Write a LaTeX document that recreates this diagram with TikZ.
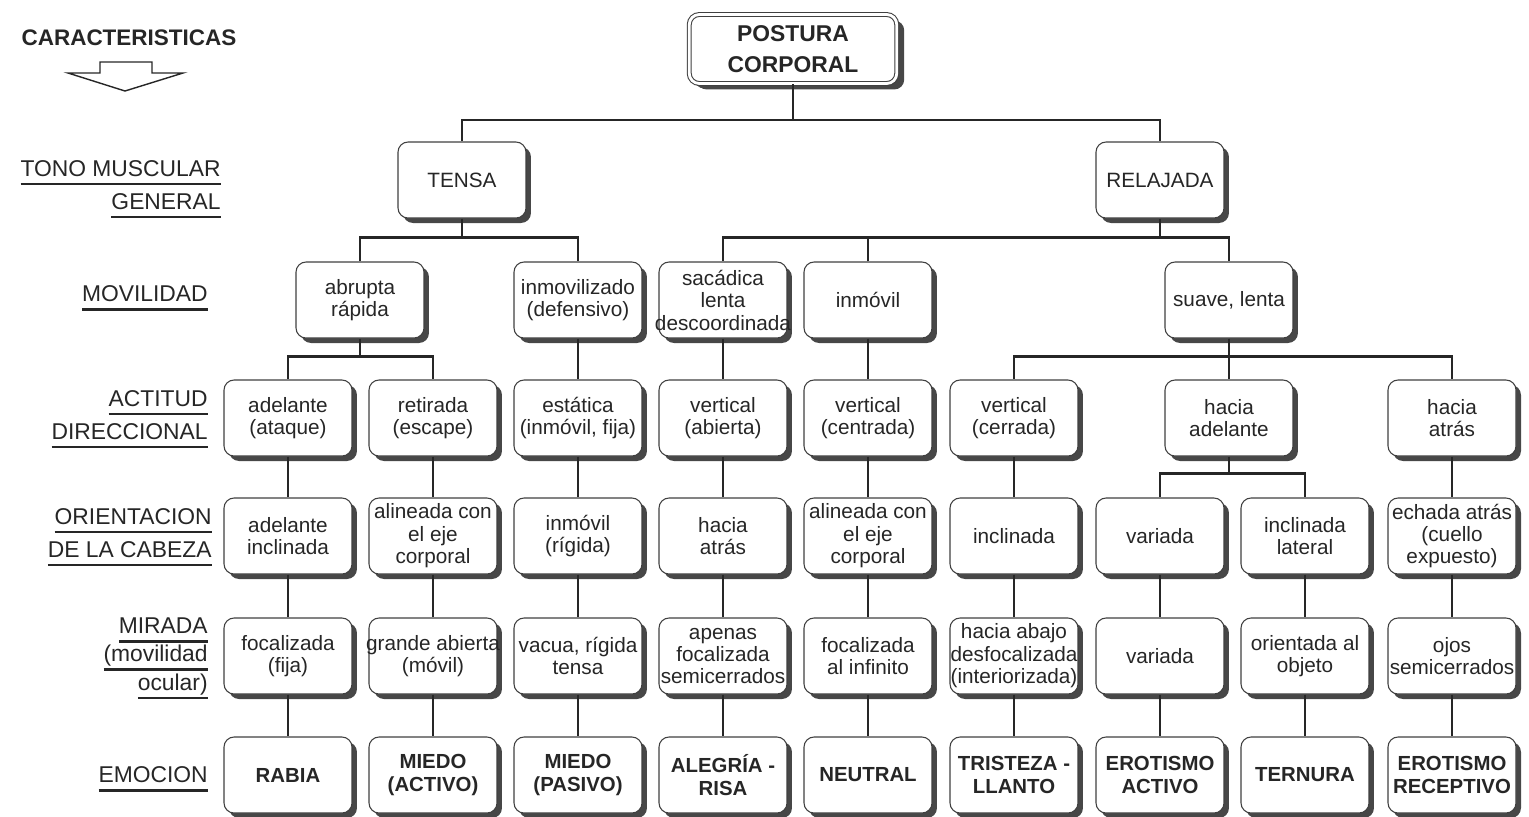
\documentclass[tikz,border=0pt]{standalone}
\usepackage{fontspec}
\setmainfont{Liberation Sans}
\usepackage{tikz}
\usetikzlibrary{shadows}

\newcommand\boxfont{\fontsize{11.8}{12.8}\selectfont}
\newcommand\emofont{\fontsize{11.6}{12.6}\selectfont\bfseries}
\newcommand\rowfont{\fontsize{13}{18.5}\selectfont}
\newcommand\ulabel[1]{\leavevmode\vtop{\hbox{\vphantom{(}#1}\kern1pt\hrule height 1.3pt}}
\newcommand\wide[1]{\makebox[2.4cm]{#1}}

\begin{document}
\begin{tikzpicture}[x=0.02cm, y=-0.02cm, text=black!85,
  box/.style={draw=black!75, line width=0.6pt, rounded corners=0.2cm, fill=white, align=center, font=\boxfont,
    minimum width=2.56cm, minimum height=1.52cm, inner sep=0.5pt,
    drop shadow={shadow xshift=0.1cm, shadow yshift=-0.1cm, fill=black!72, opacity=1}},
  emo/.style={box, font=\emofont},
  rowlabel/.style={anchor=east, align=right, font=\rowfont, inner sep=0pt},
  link/.style={line width=1.6pt, black!85}]
\useasboundingbox (0,0) rectangle (1529,816);

\node[font=\fontsize{12.8}{14}\selectfont\bfseries] (car) at (129,38) {CARACTERISTICAS};
\draw[line width=0.8pt, black!85] (100,62) -- (152,62) -- (152,73) -- (183,73) -- (125,91) -- (68,73) -- (100,73) -- cycle;

\node[rowlabel] (l1) at (221,189) {\ulabel{TONO MUSCULAR}\\\ulabel{GENERAL}};
\node[rowlabel] (l2) at (208,298) {\ulabel{MOVILIDAD}};
\node[rowlabel] (l3) at (208,419) {\ulabel{ACTITUD}\\\ulabel{DIRECCIONAL}};
\node[rowlabel] (l4) at (212,537) {\ulabel{ORIENTACION}\\\ulabel{DE LA CABEZA}};
\node[rowlabel, font=\fontsize{13}{16}\selectfont] (l5) at (208,658) {\ulabel{MIRADA}\\\ulabel{(movilidad}\\\ulabel{ocular)}};
\node[rowlabel] (l6) at (208,779) {\ulabel{EMOCION}};

\node[box, double=white, double distance=1.6pt, minimum width=4.15cm, minimum height=1.38cm,
  font=\fontsize{13}{17.5}\selectfont\bfseries,
  drop shadow={shadow xshift=0.15cm, shadow yshift=-0.12cm, fill=black!72, opacity=1}] (p) at (793,49) {POSTURA\\CORPORAL};

\node[box] (t) at (462,180) {TENSA};
\node[box] (r) at (1160,180) {RELAJADA};

\node[box] (m1) at (360,300) {abrupta\\rápida};
\node[box] (m2) at (578,300) {inmovilizado\\(defensivo)};
\node[box] (m3) at (723,300) {sacádica\\lenta\\\wide{descoordinada}};
\node[box] (m4) at (868,300) {inmóvil};
\node[box] (m5) at (1229,300) {suave, lenta};

\node[box] (a1) at (288,418) {adelante\\(ataque)};
\node[box] (a2) at (433,418) {retirada\\(escape)};
\node[box] (a3) at (578,418) {estática\\\wide{(inmóvil, fija)}};
\node[box] (a4) at (723,418) {vertical\\(abierta)};
\node[box] (a5) at (868,418) {vertical\\(centrada)};
\node[box] (a6) at (1014,418) {vertical\\(cerrada)};
\node[box] (a7) at (1229,418) {hacia\\adelante};
\node[box] (a8) at (1452,418) {hacia\\atrás};

\node[box] (o1) at (288,536) {adelante\\inclinada};
\node[box] (o2) at (433,536) {alineada con\\el eje\\corporal};
\node[box] (o3) at (578,536) {inmóvil\\(rígida)};
\node[box] (o4) at (723,536) {hacia\\atrás};
\node[box] (o5) at (868,536) {alineada con\\el eje\\corporal};
\node[box] (o6) at (1014,536) {inclinada};
\node[box] (o7) at (1160,536) {variada};
\node[box] (o8) at (1305,536) {inclinada\\lateral};
\node[box] (o9) at (1452,536) {\wide{echada atrás}\\(cuello\\expuesto)};

\node[box] (g1) at (288,656) {focalizada\\(fija)};
\node[box] (g2) at (433,656) {\wide{grande abierta}\\(móvil)};
\node[box] (g3) at (578,656) {\wide{vacua, rígida}\\tensa};
\node[box] (g4) at (723,656) {apenas\\focalizada\\\wide{semicerrados}};
\node[box] (g5) at (868,656) {focalizada\\al infinito};
\node[box] (g6) at (1014,656) {hacia abajo\\\wide{desfocalizada}\\\wide{(interiorizada)}};
\node[box] (g7) at (1160,656) {variada};
\node[box] (g8) at (1305,656) {orientada al\\objeto};
\node[box] (g9) at (1452,656) {ojos\\\wide{semicerrados}};

\node[emo] (e1) at (288,775) {RABIA};
\node[emo] (e2) at (433,775) {MIEDO\\(ACTIVO)};
\node[emo] (e3) at (578,775) {MIEDO\\(PASIVO)};
\node[emo] (e4) at (723,775) {ALEGRÍA -\\RISA};
\node[emo] (e5) at (868,775) {NEUTRAL};
\node[emo] (e6) at (1014,775) {TRISTEZA -\\LLANTO};
\node[emo] (e7) at (1160,775) {EROTISMO\\ACTIVO};
\node[emo] (e8) at (1305,775) {TERNURA};
\node[emo] (e9) at (1452,775) {EROTISMO\\RECEPTIVO};

\draw[link] (p.south) -- ++(0,36) coordinate (jp) -| (t.north); \draw[link] (jp) -| (r.north);
\draw[link] (t.south) -- ++(0,19) coordinate (jt) -| (m1.north); \draw[link] (jt) -| (m2.north);
\draw[link] (r.south) -- ++(0,19) coordinate (jr) -| (m3.north); \draw[link] (jr) -| (m5.north);
\draw[link] (m4.north) -- (m4.north |- jr);
\draw[link] (m1.south) -- ++(0,18) coordinate (jm) -| (a1.north); \draw[link] (jm) -| (a2.north);
\draw[link] (m5.south) -- ++(0,18) coordinate (js) -| (a6.north); \draw[link] (js) -| (a8.north);
\draw[link] (m5.south) -- (a7.north);
\draw[link] (m2) -- (a3); \draw[link] (m3) -- (a4); \draw[link] (m4) -- (a5);
\draw[link] (a7.south) -- ++(0,17) coordinate (ja) -| (o7.north); \draw[link] (ja) -| (o8.north);
\foreach \i in {1,...,6} \draw[link] (a\i) -- (o\i);
\draw[link] (a8) -- (o9);
\foreach \i in {1,...,9} {\draw[link] (o\i) -- (g\i); \draw[link] (g\i) -- (e\i);}
\end{tikzpicture}
\end{document}
